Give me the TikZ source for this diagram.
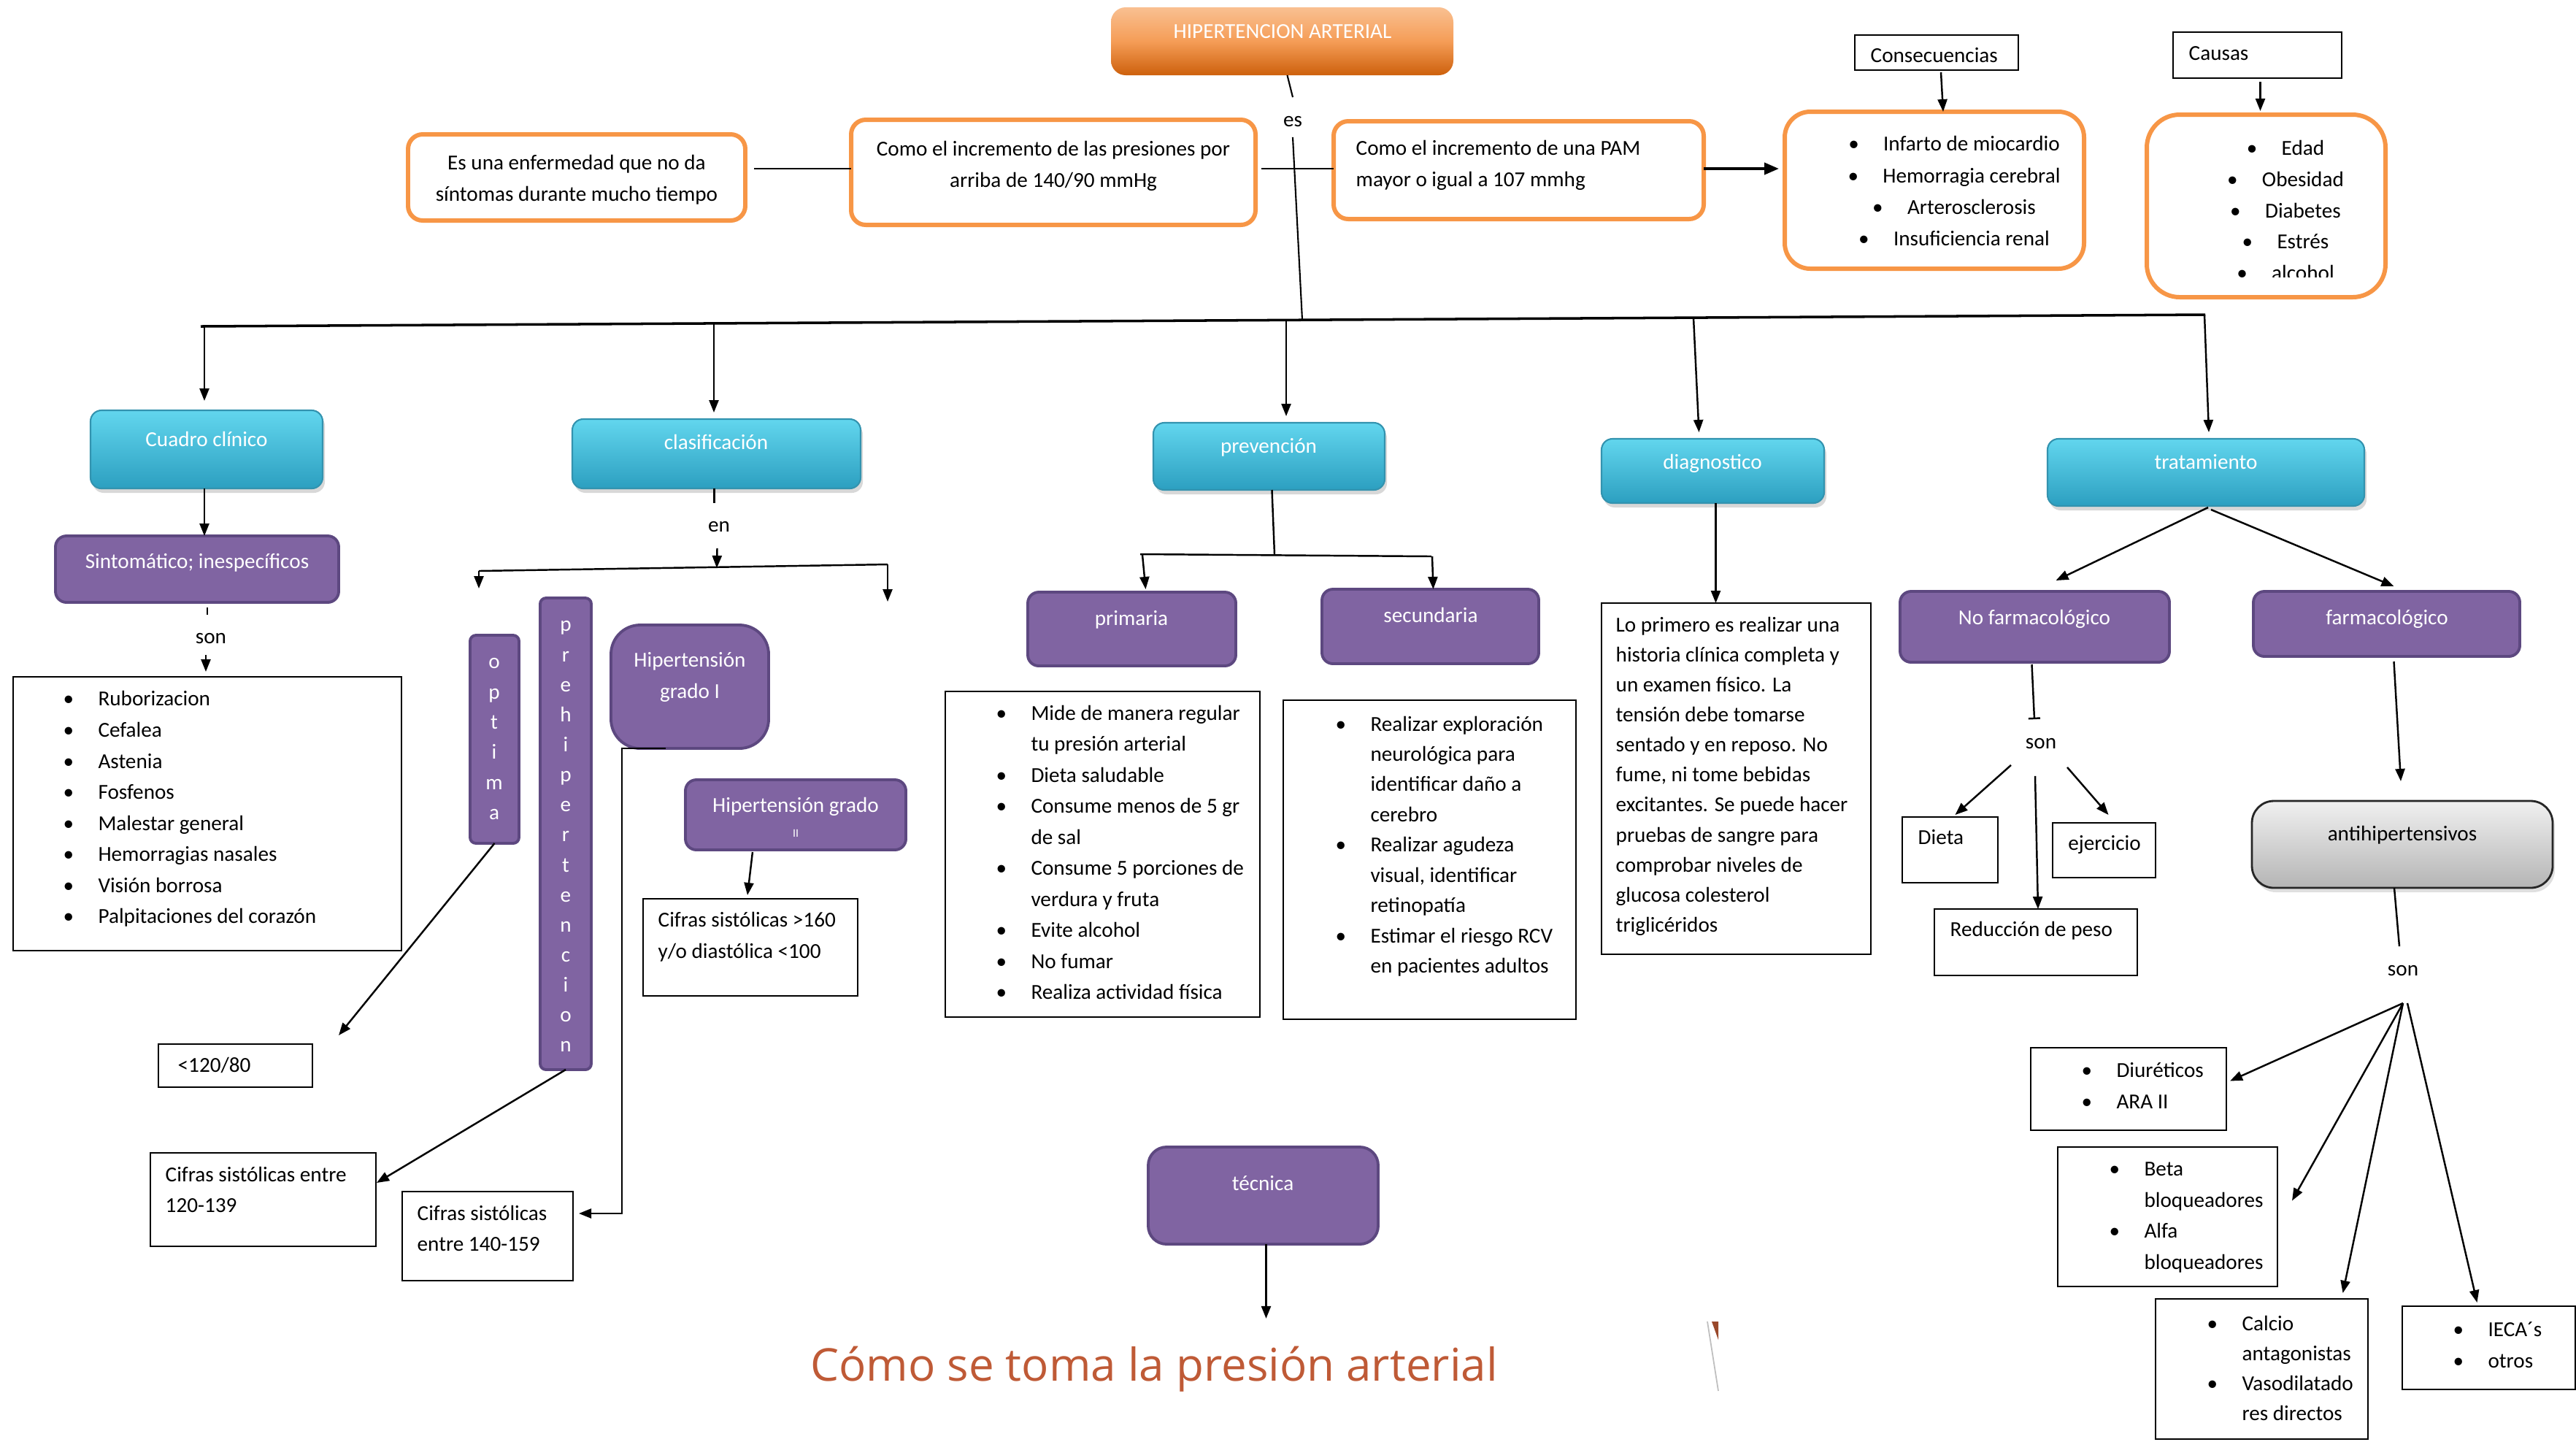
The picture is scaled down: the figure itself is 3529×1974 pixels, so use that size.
\documentclass[tikz,border=0pt]{standalone}
\usepackage{fontspec}
\setmainfont{Carlito}
\newfontfamily\osans{Open Sans}
\usetikzlibrary{arrows.meta,shadows}

\definecolor{orB}{HTML}{F79646}
\definecolor{haT}{HTML}{F9C091}
\definecolor{haM}{HTML}{F59D57}
\definecolor{haB}{HTML}{CD600C}
\definecolor{blT}{HTML}{62D6EE}
\definecolor{blB}{HTML}{2C9FC0}
\definecolor{blD}{HTML}{3393AF}
\definecolor{purp}{HTML}{8064A2}
\definecolor{purpD}{HTML}{5D4880}
\definecolor{gT}{HTML}{F0F0F0}
\definecolor{gB}{HTML}{B5B5B5}
\definecolor{comoc}{HTML}{BF5A36}

\newcommand\fs{\fontsize{8.3pt}{12.1pt}\selectfont}
\newcommand\bul{\makebox[13.6pt][l]{\textbullet}}
\newcommand\ind{\makebox[13.6pt]{}}
\newcommand\mkbox[6]{\node[#1,inner sep=0pt,outer sep=0pt,minimum width={(#5-(#3))*0.01cm},minimum height={(#6-(#4))*0.01cm}] (#2) at ({(#3+#5)/2},{(#4+#6)/2}) {};}

\begin{document}
\begin{tikzpicture}[x=0.01cm,y=-0.01cm,
  obox/.style={draw=orB,line width=1.7pt,fill=white,rounded corners=0.2cm},
  titlebox/.style={rounded corners=0.2cm,top color=haT,bottom color=haB,middle color=haM},
  bbox/.style={rounded corners=0.15cm,top color=blT,bottom color=blB,draw=blD,line width=0.6pt,
     drop shadow={opacity=0.3,shadow xshift=0.03cm,shadow yshift=-0.06cm}},
  pbox/.style={rounded corners=0.15cm,fill=purp,draw=purpD,line width=1.1pt},
  gbox/.style={rounded corners=0.3cm,top color=gT,bottom color=gB,draw=black!85,line width=0.8pt,
     drop shadow={opacity=0.25,shadow xshift=0.03cm,shadow yshift=-0.06cm}},
  plain/.style={draw=black,line width=0.6pt},
  wt/.style={font=\fs,text=white,inner sep=0pt},
  bt/.style={font=\fs,text=black,inner sep=0pt},
  lst/.style={bt,align=left,anchor=north west,execute at begin node=\strut},
  lstc/.style={bt,align=center,anchor=north,execute at begin node=\strut},
  conn/.style={draw=black,line width=0.7pt},
  arr/.style={conn,-{Triangle[length=0.17cm,width=0.13cm]}}]

\fill[white] (0,0) rectangle (3529,1974);
\useasboundingbox (0,0) rectangle (3529,1974);

% ---------- boxes ----------
\mkbox{titlebox}{ha}{1522}{10}{1991}{103}
\mkbox{obox}{e1}{559}{184}{1021}{302}
\mkbox{obox}{c1}{1166}{164}{1720}{308}
\mkbox{obox}{c2}{1827}{166}{2334}{300}
\mkbox{plain}{conslbl}{2541}{48}{2765}{96}
\mkbox{obox,rounded corners=0.35cm}{cons}{2445}{153}{2855}{368}
\mkbox{plain}{causaslbl}{2977}{44}{3208}{107}
\mkbox{obox,rounded corners=0.45cm}{causas}{2941}{157}{3268}{407}

\mkbox{bbox}{cuadro}{124}{562}{442}{669}
\mkbox{bbox}{clasif}{784}{574}{1179}{669}
\mkbox{bbox}{prev}{1580}{579}{1897}{671}
\mkbox{bbox}{diag}{2194}{601}{2499}{689}
\mkbox{bbox}{trat}{2805}{601}{3239}{693}

\mkbox{pbox}{sint}{76}{734}{464}{825}
\mkbox{plain}{sympt}{18}{927}{550}{1302}
\mkbox{pbox,rounded corners=0.08cm}{optima}{644}{870}{711}{1155}
\mkbox{pbox,rounded corners=0.08cm}{prehip}{740}{819}{810}{1465}
\mkbox{pbox,rounded corners=0.4cm}{hg1}{837}{856}{1053}{1025}
\mkbox{pbox}{hg2}{939}{1068}{1241}{1164}
\mkbox{plain}{c160}{881}{1231}{1175}{1364}
\mkbox{plain}{lt120}{217}{1430}{428}{1489}
\mkbox{plain}{c120}{206}{1579}{515}{1707}
\mkbox{plain}{c140}{551}{1632}{785}{1754}

\mkbox{pbox}{prim}{1408}{811}{1693}{912}
\mkbox{pbox}{sec}{1811}{807}{2108}{909}
\mkbox{plain}{primlist}{1295}{947}{1726}{1393}
\mkbox{plain}{seclist}{1758}{959}{2159}{1396}
\mkbox{plain}{diagtxt}{2194}{826}{2563}{1307}

\mkbox{pbox}{nofarm}{2603}{810}{2972}{907}
\mkbox{pbox}{farm}{3087}{810}{3452}{899}
\mkbox{plain}{dieta}{2606}{1119}{2737}{1209}
\mkbox{plain}{ejer}{2812}{1127}{2953}{1202}
\mkbox{plain}{red}{2650}{1245}{2928}{1336}
\mkbox{gbox}{anti}{3085}{1097}{3497}{1216}
\mkbox{plain}{diur}{2782}{1435}{3050}{1548}
\mkbox{plain}{beta}{2819}{1571}{3120}{1762}
\mkbox{plain}{calcio}{2953}{1779}{3244}{1971}
\mkbox{plain}{ieca}{3291}{1789}{3528}{1903}
\mkbox{pbox,rounded corners=0.25cm}{tec}{1573}{1571}{1888}{1704}

% ---------- texts ----------
\node[wt,anchor=base] (tha) at (1757,52) {HIPERTENCION ARTERIAL};
\node[bt,anchor=base] (es) at (1771,173) {es};
\node[lstc] (te1) at (790,212) {Es una enfermedad que no da\\síntomas durante mucho tiempo};
\node[lstc] (tc1) at (1443,193) {Como el incremento de las presiones por\\arriba de 140/90 mmHg};
\node[lst] (tc2) at (1857,192) {Como el incremento de una PAM\\mayor o igual a 107 mmhg};
\node[bt,anchor=base west] (tconslbl) at (2562,85) {Consecuencias};
\node[lstc,font=\fontsize{8.3pt}{12.3pt}\selectfont] (tcons) at (2677,186) {\bul Infarto de miocardio\\\bul Hemorragia cerebral\\\bul Arterosclerosis\\\bul Insuficiencia renal};
\node[bt,anchor=base west] (tcauslbl) at (2998,82) {Causas};
\begin{scope}
\clip (2941,150) rectangle (3268,379);
\node[lstc] (tcaus) at (3131,192) {\bul Edad\\\bul Obesidad\\\bul Diabetes\\\bul Estrés\\\bul alcohol};
\end{scope}

\node[wt,anchor=base] (tcuadro) at (283,611) {Cuadro clínico};
\node[wt,anchor=base] (tclasif) at (981,615) {clasificación};
\node[wt,anchor=base] (tprev) at (1738,620) {prevención};
\node[wt,anchor=base] (tdiag) at (2346,642) {diagnostico};
\node[wt,anchor=base] (ttrat) at (3022,642) {tratamiento};

\node[wt,anchor=base] (tsint) at (270,778) {Sintomático; inespecíficos};
\node[bt,anchor=base] (son1) at (289,881) {son};
\node[lst] (tsym) at (86,946) {\bul Ruborizacion\\\bul Cefalea\\\bul Astenia\\\bul Fosfenos\\\bul Malestar general\\\bul Hemorragias nasales\\\bul Visión borrosa\\\bul Palpitaciones del corazón};
\node[bt,anchor=base] (ten) at (985,728) {en};
\node[wt,align=center,anchor=north,font=\fontsize{8.3pt}{11.75pt}\selectfont,execute at begin node=\strut] (topt) at (677,901) {o\\p\\t\\i\\m\\a};
\node[wt,align=center,anchor=north,font=\fontsize{8.3pt}{11.7pt}\selectfont,execute at begin node=\strut] (tpre) at (775,850) {p\\r\\e\\h\\i\\p\\e\\r\\t\\e\\n\\c\\i\\o\\n};
\node[wt,align=center,anchor=north,execute at begin node=\strut] (thg1) at (945,893) {Hipertensión\\grado I};
\node[wt,anchor=base] (thg2a) at (1090,1112) {Hipertensión grado};
\node[wt,anchor=base,font=\fontsize{4.5pt}{5pt}\selectfont] (thg2b) at (1090,1146) {II};
\node[lst] (tc160) at (901,1249) {Cifras sistólicas >160\\y/o diastólica <100};
\node[bt,anchor=base west] (t120) at (243,1468) {<120/80};
\node[lst] (tc120) at (226,1597) {Cifras sistólicas entre\\120-139};
\node[lst] (tc140) at (571,1650) {Cifras sistólicas\\entre 140-159};

\node[wt,anchor=base] (tprim) at (1550,856) {primaria};
\node[wt,anchor=base] (tsec) at (1960,852) {secundaria};
\node[lst] (tprimlist) at (1364,965) {\bul Mide de manera regular\\\ind tu presión arterial\\\bul Dieta saludable\\\bul Consume menos de 5 gr\\\ind de sal\\\bul Consume 5 porciones de\\\ind verdura y fruta\\\bul Evite alcohol\\\bul No fumar\\\bul Realiza actividad física};
\node[lst,font=\fontsize{8.3pt}{11.8pt}\selectfont] (tseclist) at (1829,980) {\bul Realizar exploración\\\ind neurológica para\\\ind identificar daño a\\\ind cerebro\\\bul Realizar agudeza\\\ind visual, identificar\\\ind retinopatía\\\bul Estimar el riesgo RCV\\\ind en pacientes adultos};
\node[lst,font=\fontsize{8.3pt}{11.7pt}\selectfont] (tdiagtxt) at (2213,844) {Lo primero es realizar una\\historia clínica completa y\\un examen físico. La\\tensión debe tomarse\\sentado y en reposo. No\\fume, ni tome bebidas\\excitantes. Se puede hacer\\pruebas de sangre para\\comprobar niveles de\\glucosa colesterol\\triglicéridos};

\node[wt,anchor=base] (tnofarm) at (2787,855) {No farmacológico};
\node[wt,anchor=base] (tfarm) at (3270,855) {farmacológico};
\node[bt,anchor=base] (son3) at (2796,1025) {son};
\node[bt,anchor=base west] (tdieta) at (2627,1156) {Dieta};
\node[bt,anchor=base] (tejer) at (2883,1164) {ejercicio};
\node[bt,anchor=base west] (tred) at (2671,1282) {Reducción de peso};
\node[bt,anchor=base] (tanti) at (3291,1151) {antihipertensivos};
\node[bt,anchor=base] (son4) at (3292,1336) {son};
\node[lst] (tdiur) at (2851,1455) {\bul Diuréticos\\\bul ARA II};
\node[lst] (tbeta) at (2889,1591) {\bul Beta\\\ind bloqueadores\\\bul Alfa\\\ind bloqueadores};
\node[lst,font=\fontsize{8.3pt}{11.7pt}\selectfont] (tcalcio) at (3023,1801) {\bul Calcio\\\ind antagonistas\\\bul Vasodilatado\\\ind res directos};
\node[lst] (tieca) at (3360,1810) {\bul IECA´s\\\bul otros};

\node[wt,anchor=base] (ttec) at (1730,1630) {técnica};
\node[anchor=base,inner sep=0pt,text=comoc,font=\osans\fontsize{17.6pt}{20pt}\selectfont] (como) at (1581,1891) {Cómo se toma la presión arterial};

% small sliver of the pasted picture
\fill[comoc!80!black] (2345,1810) -- (2354,1810) -- (2354,1835) -- cycle;
\draw[black!25,line width=0.5pt] (2339,1810) -- (2354,1905);

% ---------- coordinates ----------
\coordinate (ly) at (0,231);
\coordinate (busL) at (275,447);
\coordinate (busR) at (3021,431);
\coordinate (bHA) at (1784,438);
\coordinate (b1) at (280,447);
\coordinate (b2) at (978,443);
\coordinate (b3) at (1762,438);
\coordinate (b4) at (2320,435);
\coordinate (b5) at (3020,431);
\coordinate (cbL) at (656,782);
\coordinate (cbR) at (1216,773);
\coordinate (cbM) at (982,778);
\coordinate (cbe1) at (656,806);
\coordinate (cbe2) at (1216,824);
\coordinate (pb) at (1746,759);
\coordinate (pbL) at (1562,759);
\coordinate (pbR) at (1961,762);
\coordinate (pa1) at (1565,760);
\coordinate (pa2) at (1962,762);
\coordinate (e120) at (464,1418);

% ---------- connectors ----------
\draw[conn,line width=0.6pt] ([xshift=0.07cm]ha.south) -- ([yshift=0.25cm]es.north);
\draw[conn,line width=0.6pt] ([yshift=-0.14cm]es.south) -- (bHA);
\draw[conn] ([xshift=0.12cm]e1.east |- ly) -- (c1.west |- ly);
\draw[conn] ([xshift=0.08cm]c1.east |- ly) -- (c2.west |- ly);
\draw[conn,line width=1.1pt,-{Triangle[length=0.2cm,width=0.16cm]}] (c2.east |- ly) -- ([xshift=-0.08cm]cons.west |- ly);
\draw[arr] ([xshift=0.06cm,yshift=-0.03cm]conslbl.south) -- ([xshift=0.09cm]conslbl.south |- cons.north);
\draw[arr] ([xshift=0.04cm,yshift=-0.05cm]causaslbl.south) -- ([xshift=0.04cm,yshift=0.05cm]causaslbl.south |- causas.north);

\draw[conn,line width=1pt] (busL) -- (busR);
\draw[arr,shorten >=0.13cm] (b1) -- (b1 |- cuadro.north);
\draw[arr,shorten >=0.09cm] (b2) -- (b2 |- clasif.north);
\draw[arr,shorten >=0.09cm] (b3) -- (b3 |- prev.north);
\draw[arr] (b4) -- ([xshift=-0.19cm,yshift=0.09cm]diag.north);
\draw[arr] (b5) -- ([xshift=0.04cm,yshift=0.09cm]trat.north);

\draw[arr] ([xshift=-0.03cm]cuadro.south) -- ([xshift=-0.03cm]cuadro.south |- sint.north);
\draw[conn] ([xshift=-0.05cm,yshift=-0.07cm]sint.south -| son1.north) -- ([xshift=-0.05cm,yshift=0.24cm]son1.north);
\draw[arr] ([xshift=-0.07cm,yshift=-0.15cm]son1.south) -- ([xshift=-0.07cm,yshift=0.07cm]son1.south |- sympt.north);

\draw[conn] ([xshift=-0.03cm]clasif.south) -- ([xshift=-0.03cm,yshift=0.24cm]ten.north -| clasif.south);
\draw[arr] ([xshift=0.01cm,yshift=-0.22cm]ten.south -| clasif.south) -- (cbM);
\draw[conn] (cbL) -- (cbR);
\draw[arr] (cbL) -- (cbe1);
\draw[arr] (cbR) -- (cbe2);
\draw[arr] (optima.south) -- (e120);
\draw[arr] (prehip.south) -- ([xshift=0.01cm,yshift=0.23cm]c120.east);
\draw[arr] ([xshift=-0.33cm]hg1.south) -- ++(-60,0) |- ([xshift=0.08cm,yshift=0.31cm]c140.east);
\draw[arr] ([xshift=-0.59cm,yshift=-0.03cm]hg2.south) -- ([xshift=-0.04cm,yshift=0.05cm]c160.north);

\draw[conn] ([xshift=0.04cm]prev.south) -- (pb);
\draw[conn] (pbL) -- (pbR);
\draw[arr] (pa1) -- ([xshift=0.19cm,yshift=0.04cm]prim.north);
\draw[arr] (pa2) -- ([xshift=0.04cm]sec.north);

\draw[arr] ([xshift=0.04cm]diag.south) -- ([xshift=0.04cm]diag.south |- diagtxt.north);

\draw[arr] ([xshift=0.03cm,yshift=-0.02cm]trat.south) -- ([xshift=0.29cm,yshift=0.15cm]nofarm.north);
\draw[arr] ([xshift=0.07cm,yshift=-0.05cm]trat.south) -- ([xshift=0.1cm,yshift=0.07cm]farm.north);
\draw[conn,-{Bar[width=0.16cm]}] ([xshift=-0.04cm,yshift=-0.03cm]nofarm.south) -- ([xshift=-0.09cm,yshift=0.25cm]son3.north);
\draw[arr] ([xshift=-0.41cm,yshift=-0.22cm]son3.south) -- ([xshift=0.07cm,yshift=0.03cm]dieta.north);
\draw[arr] ([xshift=-0.08cm,yshift=-0.37cm]son3.south) -- ([xshift=0.03cm]red.north);
\draw[arr] ([xshift=0.36cm,yshift=-0.25cm]son3.south) -- ([xshift=0.06cm,yshift=0.11cm]ejer.north);
\draw[arr] ([xshift=0.1cm,yshift=-0.07cm]farm.south) -- ([xshift=-0.02cm,yshift=0.27cm]anti.north);
\draw[conn] ([xshift=-0.11cm]anti.south) -- ([xshift=-0.05cm,yshift=0.25cm]son4.north);
\draw[arr] ([yshift=-0.37cm]son4.south) -- ([xshift=0.05cm,yshift=0.11cm]diur.east);
\draw[arr] ([yshift=-0.37cm]son4.south) -- ([xshift=0.2cm,yshift=0.22cm]beta.east);
\draw[arr] ([yshift=-0.37cm]son4.south) -- ([xshift=1.11cm,yshift=0.08cm]calcio.north);
\draw[arr] ([xshift=0.06cm,yshift=-0.37cm]son4.south) -- ([xshift=-0.16cm,yshift=0.05cm]ieca.north);

\draw[arr] ([xshift=0.04cm]tec.south) -- ([xshift=0.04cm,yshift=0.37cm]tec.south |- como.north);
\end{tikzpicture}
\end{document}
